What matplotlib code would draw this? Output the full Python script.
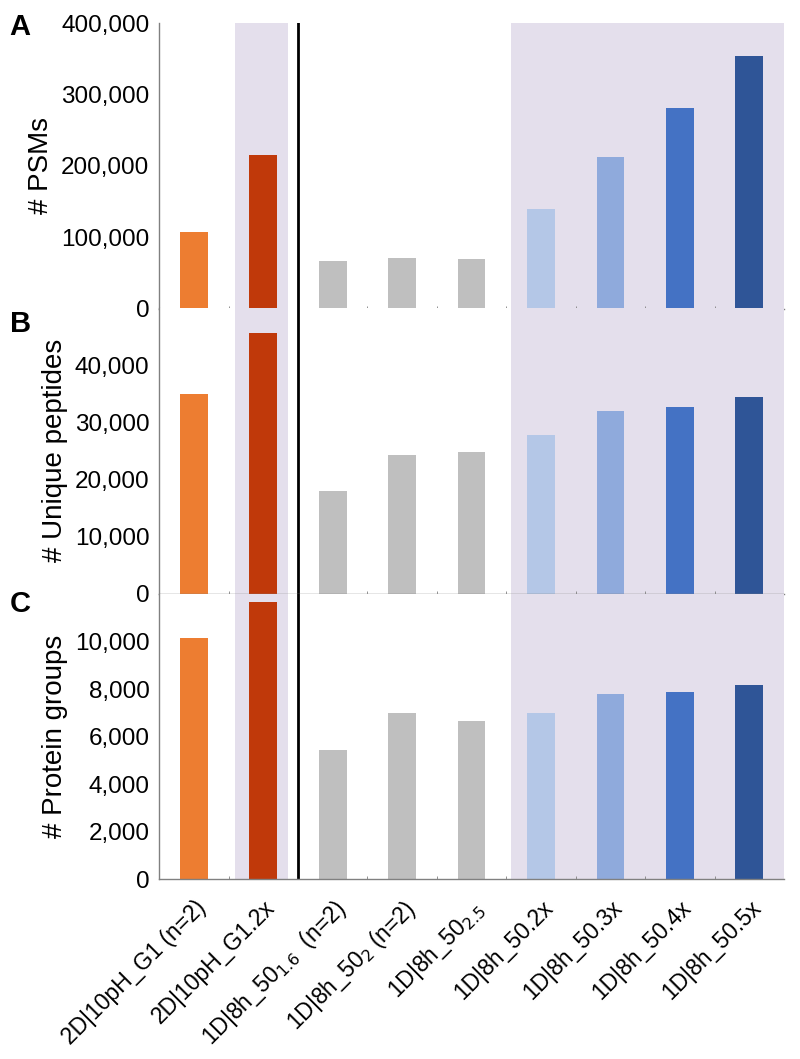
import matplotlib
matplotlib.use("Agg")
import matplotlib.pyplot as plt
from matplotlib.ticker import FuncFormatter

plt.rcParams['font.family'] = ['Liberation Sans', 'DejaVu Sans']

labels = ["2D|10pH_G1 (n=2)", "2D|10pH_G1.2x",
          "1D|8h_50$_{1.6}$  (n=2)", "1D|8h_50$_{2}$ (n=2)", "1D|8h_50$_{2.5}$",
          "1D|8h_50.2x", "1D|8h_50.3x", "1D|8h_50.4x", "1D|8h_50.5x"]
colors = ["#ED7D31", "#C0390A", "#BFBFBF", "#BFBFBF", "#BFBFBF",
          "#B4C7E7", "#8FAADC", "#4472C4", "#2F5597"]

psms = [108000, 215000, 67500, 71500, 70000, 140000, 212000, 281000, 354000]
peptides = [35000, 45600, 18000, 24200, 24800, 27800, 31900, 32700, 34400]
proteins = [10140, 11680, 5430, 7000, 6670, 7020, 7790, 7900, 8160]

# letter, ylabel, values, ylim top, top tick, tick step
panels = [
    ("A", "# PSMs", psms, 400000, 400000, 100000),
    ("B", "# Unique peptides", peptides, 50000, 40000, 10000),
    ("C", "# Protein groups", proteins, 12000, 10000, 2000),
]

fig = plt.figure(figsize=(8, 10.59), dpi=100)
left, right = 0.199, 0.980
tops = [0.978, 0.709, 0.439]
letter_y = [0.988, 0.707, 0.443]
h = 0.2695
shade = "#E4DFEC"
xs = list(range(len(labels)))

for i, (letter, ylab, vals, ymax, ytop, step) in enumerate(panels):
    ax = fig.add_axes([left, tops[i] - h, right - left, h])
    ax.axvspan(0.59, 1.36, color=shade, zorder=0, lw=0)
    ax.axvspan(4.57, 8.5, color=shade, zorder=0, lw=0)
    ax.bar(xs, vals, width=0.4, color=colors, zorder=2)
    ax.axvline(1.5, color="black", lw=2, zorder=3)
    ax.set_xlim(-0.5, 8.5)
    ax.set_ylim(0, ymax)
    ax.set_yticks(range(0, ytop + 1, step))
    ax.yaxis.set_major_formatter(FuncFormatter(lambda v, p: f"{int(v):,}"))
    ax.tick_params(axis="y", length=0, labelsize=17.5, pad=7)
    ax.set_ylabel(ylab, fontsize=20, labelpad=5)
    for s in ["top", "right"]:
        ax.spines[s].set_visible(False)
    for s in ["left", "bottom"]:
        ax.spines[s].set_color("#808080")
        ax.spines[s].set_linewidth(1)
        ax.spines[s].set_zorder(4)
    ax.set_xticks([x + 0.5 for x in xs[:-1]], minor=True)
    ax.tick_params(axis="x", which="minor", length=2, direction="in", color="#808080")
    ax.set_xticks(xs)
    if i < 2:
        ax.tick_params(axis="x", which="major", length=0, labelbottom=False)
    else:
        ax.tick_params(axis="x", which="major", length=0, pad=12)
        ax.set_xticklabels(labels, rotation=45, ha="right", rotation_mode="anchor",
                           fontsize=16.5)
    fig.text(0.012, letter_y[i], letter, fontsize=21, fontweight="bold", va="top")

fig.savefig("out.png", dpi=100)
